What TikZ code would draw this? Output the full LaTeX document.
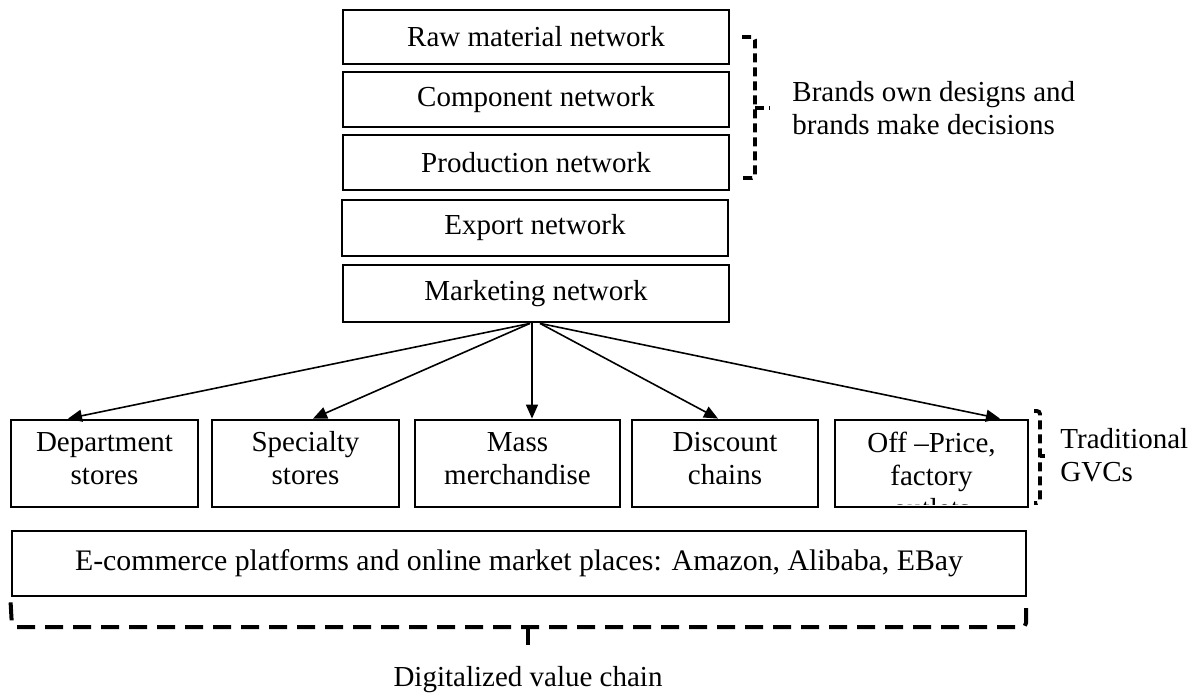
\documentclass[tikz,border=0pt]{standalone}
\usepackage{fontspec}
\setmainfont{Liberation Serif}
\usetikzlibrary{arrows.meta}
\begin{document}
\begin{tikzpicture}[x=0.5pt,y=-0.5pt,
  box/.style={draw,line width=1.4pt,inner sep=0pt},
  txt/.style={font=\fontsize{14.5}{16.5}\selectfont,align=center,inner sep=0pt},
  ltxt/.style={font=\fontsize{14.5}{16.5}\selectfont,align=left,inner sep=0pt,anchor=west},
  arr/.style={line width=0.8pt,-{Triangle[length=7pt,width=6pt]}},
  brk/.style={line width=1.9pt,dash pattern=on 4.5pt off 2.5pt,rounded corners=1.5pt},
  brkb/.style={line width=2pt,dash pattern=on 9pt off 5pt,rounded corners=2pt}]
\useasboundingbox (0,0) rectangle (1200,697);
% upper chain
\node[box,txt,minimum width=193pt,minimum height=27pt] (raw) at (536,37) {Raw material network};
\node[box,txt,minimum width=193pt,minimum height=27.5pt] (comp) at (536,99.5) {Component network};
\node[box,txt,minimum width=193pt,minimum height=27.5pt] (prod) at (536,162.5) {Production network};
\node[box,txt,minimum width=193pt,minimum height=28pt] (exp) at (535,228) {Export network};
\node[box,txt,minimum width=193pt,minimum height=28.5pt] (mkt) at (536,293.5) {Marketing network};
% lower boxes
\node[box,minimum width=93.5pt,minimum height=43.5pt] (dept) at (104.5,463.5) {};
\node[box,minimum width=93.5pt,minimum height=43.5pt] (spec) at (305.5,463.5) {};
\node[box,minimum width=102.5pt,minimum height=43.5pt] (mass) at (517.5,463.5) {};
\node[box,minimum width=93pt,minimum height=43.5pt] (disc) at (725,463.5) {};
\node[box,minimum width=96.5pt,minimum height=43.5pt] (off) at (931.5,463.5) {};
\node[txt] (tdept) at (104.5,458.5) {Department\\stores};
\node[txt] (tspec) at (305.5,458.5) {Specialty\\stores};
\node[txt] (tmass) at (517.5,458.5) {Mass\\merchandise};
\node[txt] (tdisc) at (725,458.5) {Discount\\chains};
\begin{scope}
  \clip (838,423) rectangle (1025,504);
  \node[txt] (toff) at (931.5,475) {Off \textendash Price,\\factory\\outlets};
\end{scope}
\node[box,txt,font=\fontsize{14.9}{17}\selectfont,minimum width=507pt,minimum height=32.5pt] (ecom) at (519,563.5) {E-commerce platforms and online market places: Amazon, Alibaba, EBay};
% arrows
\draw[arr] ([xshift=-3pt]mkt.south) -- (dept.north -| 68,0);
\draw[arr] ([xshift=-3pt]mkt.south) -- (spec.north -| 313,0);
\draw[arr] ([xshift=-2pt]mkt.south) -- (mass.north -| 532,0);
\draw[arr] ([xshift=2pt]mkt.south) -- (disc.north -| 718,0);
\draw[arr] ([xshift=2pt]mkt.south) -- (off.north -| 1000,0);
% brackets
\coordinate (b1a) at (742,37);
\coordinate (b1b) at (742,178);
\draw[brk] (b1a) -- (755,37) -- (755,178) -- (b1b);
\draw[brk] (755,108) -- (770,108);
\node[ltxt] (lbrand) at (792,108) {Brands own designs and\\brands make decisions};
\draw[brk] (1034,411) -- (1040,411) -- (1040,503) -- (1034,503);
\draw[brk] (1040,456) -- (1045,456);
\node[ltxt] (ltrad) at (1060,455) {Traditional\\GVCs};
\draw[brkb] (ecom.south west) ++(0,5) -- (12,627) -- (1026,627) -- (1026,600);
\draw[brkb] (528,627) -- (528,652);
\node[txt] (ldig) at (528,680) {Digitalized value chain};
\end{tikzpicture}
\end{document}
